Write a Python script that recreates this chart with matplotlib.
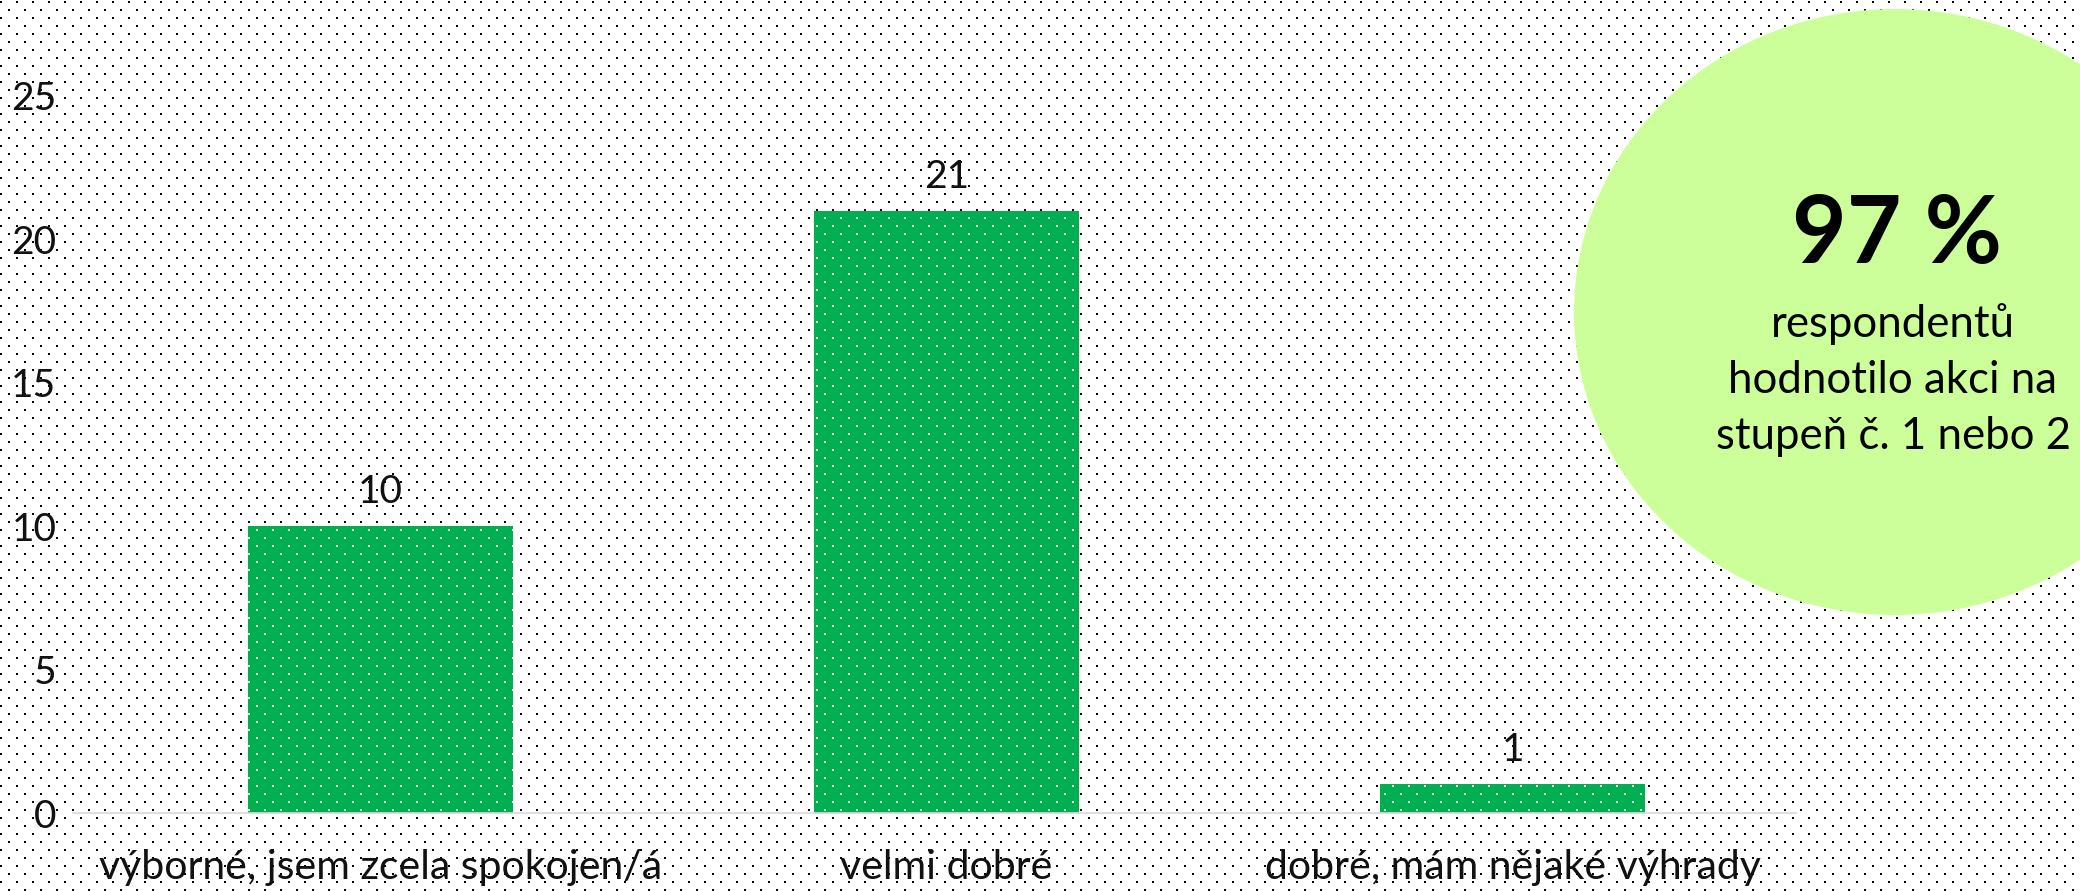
import numpy as np
import matplotlib
matplotlib.use("Agg")
import matplotlib.pyplot as plt
from matplotlib.patches import Ellipse

W, H = 2080, 891
DPI = 100

categories = ["výborné, jsem zcela spokojen/á", "velmi dobré", "dobré, mám nějaké výhrady"]
counts = [10, 21, 1]
yticks = [0, 5, 10, 15, 20, 25]
big_number = "97 %"
note_lines = ["respondentů", "hodnotilo akci na", "stupeň č. 1 nebo 2"]

GREEN = "#00B050"
BUBBLE = "#CCFF99"

plt.rcParams["font.family"] = ["Lato", "DejaVu Sans"]


def px(x, y):
    # pixel position (from top left) -> figure fraction
    return x / W, 1 - y / H


# dotted pattern, staggered rows
mask = np.zeros((H, W), dtype=bool)
for j in range(H // 8 + 1):
    y0 = 8 * j + 1
    x0 = 8 * (j % 2)
    for dx in (0, 1):
        mask[y0:y0 + 2, x0 + dx::16] = True

bg = np.ones((H, W, 4))
bg[mask, :3] = 0.0
white_dots = np.zeros((H, W, 4))
white_dots[mask] = 1.0

fig = plt.figure(figsize=(W / DPI, H / DPI), dpi=DPI)
fig.patch.set_facecolor("white")
fig.figimage(bg[::-1], xo=0, yo=0, origin="lower", zorder=-10)

l, b = px(73, 813)
r, t = px(1796, 96)
ax = fig.add_axes([l, b, r - l, t - b])
ax.patch.set_visible(False)

x = np.arange(len(categories))
bars = ax.bar(x, counts, width=0.468, color=GREEN, linewidth=0)

for rect, v in zip(bars, counts):
    ax.annotate(str(v), (rect.get_x() + rect.get_width() / 2, v),
                xytext=(0, 16.5), textcoords="offset points",
                ha="center", va="baseline", fontsize=28, color="#111111")

ax.set_xlim(-0.543, 2.5)
ax.set_ylim(0, 25)
ax.set_yticks(yticks)
ax.set_xticks(x)
ax.set_xticklabels(categories)
ax.tick_params(axis="y", length=0, pad=12, labelsize=28, labelcolor="#111111")
ax.tick_params(axis="x", length=0, pad=26, labelsize=29.5, labelcolor="#111111")
for s in ["left", "right", "top"]:
    ax.spines[s].set_visible(False)
ax.spines["bottom"].set_color("#d9d9d9")
ax.spines["bottom"].set_linewidth(1.2)

# white dots on the bars
for rect in bars:
    im = fig.figimage(white_dots[::-1], xo=0, yo=0, origin="lower", zorder=5)
    im.set_clip_path(rect)

# bubble with the summary
cx, cy = px(1895, 312)
bubble = Ellipse((cx, cy), 2 * 321 / W, 2 * 303 / H, transform=fig.transFigure,
                 facecolor=BUBBLE, edgecolor="none", zorder=6)
fig.add_artist(bubble)

fx, fy = px(1897, 263)
fig.text(fx, fy, big_number, ha="center", va="baseline", fontsize=68,
         fontweight="bold", color="black", zorder=7)
for i, line in enumerate(note_lines):
    fx, fy = px(1893, 337 + 56 * i)
    fig.text(fx, fy, line, ha="center", va="baseline", fontsize=31.5,
             color="black", zorder=7)

fig.savefig("out.png", dpi=DPI)
